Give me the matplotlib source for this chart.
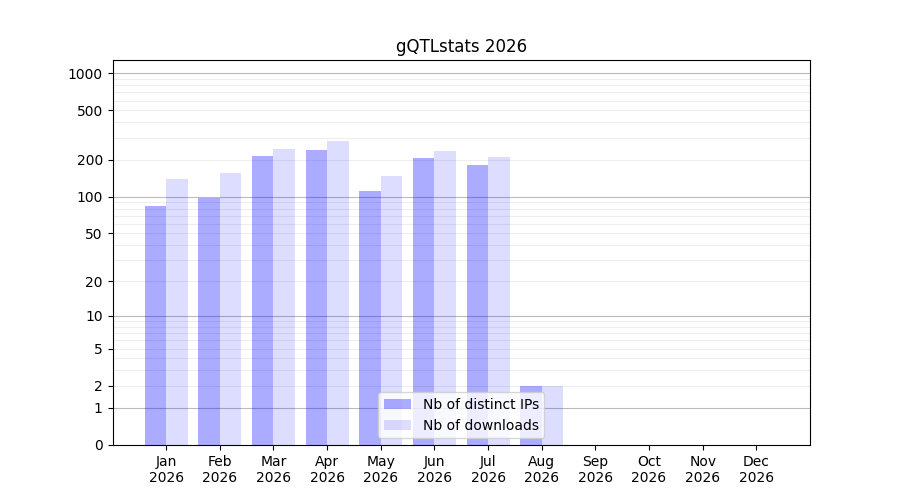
import numpy as np
import matplotlib
matplotlib.use("Agg")
import matplotlib.pyplot as plt

months = ["Jan", "Feb", "Mar", "Apr", "May", "Jun", "Jul", "Aug", "Sep", "Oct", "Nov", "Dec"]
year = "2026"
distinct_ips = [84, 97, 214, 240, 111, 206, 181, 2, 0, 0, 0, 0]
downloads = [139, 156, 244, 283, 147, 235, 210, 2, 0, 0, 0, 0]
ytick_values = [0, 1, 2, 5, 10, 20, 50, 100, 200, 500, 1000]

def tr(v):
    return np.log10(1 + np.asarray(v, dtype=float))

fig, ax = plt.subplots(figsize=(9, 5), dpi=100)
x = np.arange(1, len(months) + 1)
w = 0.4
ax.bar(x - w / 2, tr(distinct_ips), width=w, color="blue", alpha=0.33, label="Nb of distinct IPs", zorder=2)
ax.bar(x + w / 2, tr(downloads), width=w, color="blue", alpha=0.133, label="Nb of downloads", zorder=2)

# grid lines
for dec in [1, 10, 100, 1000]:
    ax.axhline(tr(dec), color="#bbbbbb", lw=0.8, zorder=1)
for dec in [1, 10, 100]:
    for m in range(2, 10):
        ax.axhline(tr(dec * m), color="#eeeeee", lw=0.8, zorder=1)

ax.set_yticks(tr(ytick_values))
ax.set_yticklabels([str(v) for v in ytick_values])
ax.set_ylim(0, 3.107)
ax.set_xticks(x)
ax.set_xticklabels([f"{m}\n{year}" for m in months])
ax.set_xlim(0, 13)
ax.set_title(f"gQTLstats {year}")
ax.legend(loc="lower center")
fig.savefig("out.png")
